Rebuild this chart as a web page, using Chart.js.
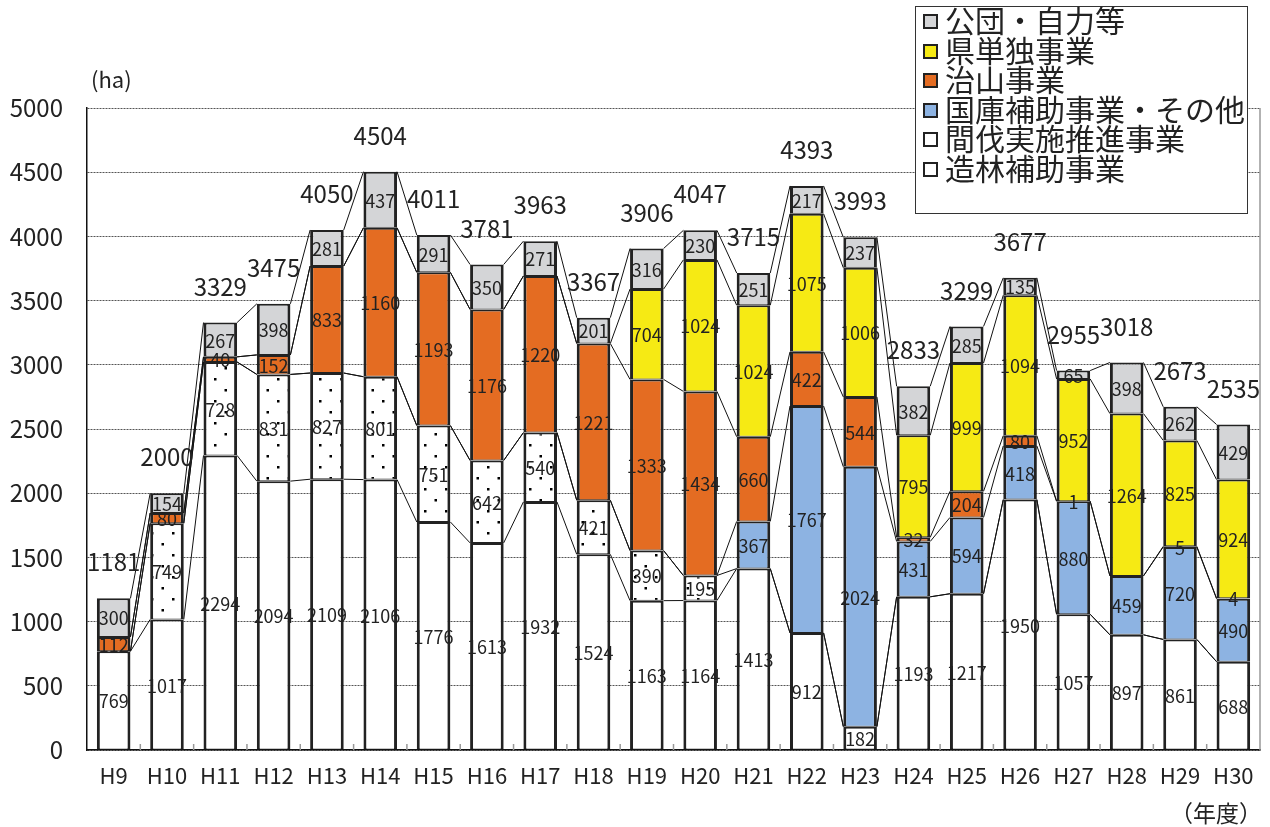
<!DOCTYPE html>
<html lang="ja">
<head>
<meta charset="utf-8">
<title>造林面積の推移</title>
<script src="https://cdn.jsdelivr.net/npm/chart.js@4.4.1/dist/chart.umd.min.js"></script>
<style>
  html, body { margin: 0; padding: 0; background: #fff; }
  #wrap { position: relative; width: 1270px; height: 827px; }
  #chart { position: absolute; left: 0; top: 0; }
  .txt { position: absolute; font-family: "Noto Sans CJK JP", sans-serif; color: #222; white-space: nowrap; }
  #legend { position: absolute; left: 915px; top: 6px; width: 331px; height: 206px; border: 1.5px solid #333; background: #fff; box-sizing: content-box; }
  #legend .row { display: flex; align-items: center; height: 29.5px; font-family: "Noto Sans CJK JP", sans-serif; font-size: 30px; line-height: 29.5px; color: #222; }
  #legend .row span.t { position: relative; top: -2px; }
  #legend .box { width: 11px; height: 11px; border: 2px solid #222; margin: 0 7px 0 7px; flex: none; }
</style>
</head>
<body>
<div id="wrap">
  <canvas id="chart" width="1270" height="827"></canvas>
  <div class="txt" style="left:91px;top:62px;font-size:22px;">(ha)</div>
  <div class="txt" style="left:1170px;top:795px;font-size:23px;">（年度）</div>
  <div id="legend"></div>
</div>
<script>
// --- DATA (ha) ---
const years = ['H9', 'H10', 'H11', 'H12', 'H13', 'H14', 'H15', 'H16', 'H17', 'H18', 'H19',
               'H20', 'H21', 'H22', 'H23', 'H24', 'H25', 'H26', 'H27', 'H28', 'H29', 'H30'];
const zorin    = [769, 1017, 2294, 2094, 2109, 2106, 1776, 1613, 1932, 1524, 1163, 1164, 1413, 912, 182, 1193, 1217, 1950, 1057, 897, 861, 688];
const kanbatsu = [0, 749, 728, 831, 827, 801, 751, 642, 540, 421, 390, 195, 0, 0, 0, 0, 0, 0, 0, 0, 0, 0];
const kokko    = [0, 0, 0, 0, 0, 0, 0, 0, 0, 0, 0, 0, 367, 1767, 2024, 431, 594, 418, 880, 459, 720, 490];
const chisan   = [112, 80, 40, 152, 833, 1160, 1193, 1176, 1220, 1221, 1333, 1434, 660, 422, 544, 32, 204, 80, 1, 0, 5, 4];
const kentan   = [0, 0, 0, 0, 0, 0, 0, 0, 0, 0, 704, 1024, 1024, 1075, 1006, 795, 999, 1094, 952, 1264, 825, 924];
const kodan    = [300, 154, 267, 398, 281, 437, 291, 350, 271, 201, 316, 230, 251, 217, 237, 382, 285, 135, 65, 398, 262, 429];
const totals   = [1181, 2000, 3329, 3475, 4050, 4504, 4011, 3781, 3963, 3367, 3906, 4047, 3715, 4393, 3993, 2833, 3299, 3677, 2955, 3018, 2673, 2535];
const yTicks   = [0, 500, 1000, 1500, 2000, 2500, 3000, 3500, 4000, 4500, 5000];

const FONT = '"Noto Sans CJK JP", sans-serif';
const INK = '#222';

// dotted fill for 間伐実施推進事業
const makeDots = () => {
    const c = document.createElement('canvas');
    c.width = 21; c.height = 22;
    const g = c.getContext('2d');
    g.fillStyle = '#fff';
    g.fillRect(0, 0, 21, 22);
    g.fillStyle = '#000';
    g.fillRect(4, 4, 2.5, 2.5);
    g.fillRect(14.5, 15, 2.5, 2.5);
    return g.createPattern(c, 'repeat');
};

const series = [
    { label: '造林補助事業', data: zorin, color: '#ffffff' },
    { label: '間伐実施推進事業', data: kanbatsu, color: makeDots(), legendColor: '#ffffff' },
    { label: '国庫補助事業・その他', data: kokko, color: '#8db3e2' },
    { label: '治山事業', data: chisan, color: '#e46c22' },
    { label: '県単独事業', data: kentan, color: '#f6ea14' },
    { label: '公団・自力等', data: kodan, color: '#d4d5d7' }
];

// legend (top series first)
const legendEl = document.getElementById('legend');
series.slice().reverse().forEach(s => {
    const row = document.createElement('div');
    row.className = 'row';
    row.innerHTML = `<span class="box" style="background:${s.legendColor || s.color}"></span><span class="t">${s.label}</span>`;
    legendEl.appendChild(row);
});

// series lines, segment labels, totals, frame extras
const extrasPlugin = {
    id: 'extras',
    afterDatasetsDraw(chart) {
        const ctx = chart.ctx;
        const y = chart.scales.y;
        const area = chart.chartArea;
        const n = years.length;

        // cumulative tops
        const cum = series.map(() => new Array(n).fill(0));
        for (let i = 0; i < n; i++) {
            let acc = 0;
            series.forEach((s, d) => { acc += s.data[i]; cum[d][i] = acc; });
        }

        ctx.save();
        // series lines
        ctx.strokeStyle = '#111';
        ctx.lineWidth = 1;
        series.forEach((s, d) => {
            const meta = chart.getDatasetMeta(d);
            for (let i = 0; i < n - 1; i++) {
                const a = meta.data[i], b = meta.data[i + 1];
                ctx.beginPath();
                ctx.moveTo(a.x + a.width / 2, y.getPixelForValue(cum[d][i]));
                ctx.lineTo(b.x - b.width / 2, y.getPixelForValue(cum[d][i + 1]));
                ctx.stroke();
            }
        });

        // segment labels
        ctx.fillStyle = INK;
        ctx.font = `18px ${FONT}`;
        ctx.textAlign = 'center';
        ctx.textBaseline = 'middle';
        series.forEach((s, d) => {
            const meta = chart.getDatasetMeta(d);
            s.data.forEach((v, i) => {
                if (!v) return;
                const mid = (cum[d][i] - v / 2);
                ctx.fillText(String(v), meta.data[i].x, y.getPixelForValue(mid) + 1);
            });
        });

        // totals
        ctx.font = `24px ${FONT}`;
        const top = chart.getDatasetMeta(0);
        totals.forEach((t, i) => {
            ctx.fillText(String(t), top.data[i].x, y.getPixelForValue(t) - 36);
        });

        // right frame line
        ctx.strokeStyle = '#999';
        ctx.lineWidth = 1.5;
        ctx.beginPath();
        ctx.moveTo(area.right, area.top);
        ctx.lineTo(area.right, area.bottom);
        ctx.stroke();

        // inward category ticks
        ctx.lineWidth = 1.5;
        const step = (area.right - area.left) / n;
        for (let k = 1; k < n; k++) {
            const x = area.left + k * step;
            ctx.beginPath();
            ctx.moveTo(x, area.bottom);
            ctx.lineTo(x, area.bottom - 6);
            ctx.stroke();
        }
        ctx.restore();
    }
};

new Chart(document.getElementById('chart'), {
    type: 'bar',
    data: {
        labels: years,
        datasets: series.map(s => ({
            label: s.label,
            data: s.data,
            backgroundColor: s.color,
            borderColor: INK,
            borderWidth: { top: 2, bottom: 1, left: 3, right: 3 },
            borderSkipped: false,
            categoryPercentage: 1,
            barPercentage: 0.63
        }))
    },
    options: {
        responsive: false,
        animation: false,
        devicePixelRatio: 1,
        layout: { padding: { top: 108, right: 10, left: 0, bottom: 0 } },
        plugins: {
            legend: { display: false },
            tooltip: { enabled: false }
        },
        scales: {
            x: {
                stacked: true,
                grid: { display: false, drawTicks: false },
                border: { display: true, color: '#111', width: 1.5 },
                ticks: { color: INK, font: { family: FONT, size: 22 }, padding: 12, maxRotation: 0, autoSkip: false },
                afterFit: (scale) => { scale.height = 77; }
            },
            y: {
                stacked: true,
                min: 0,
                max: 5000,
                afterBuildTicks: (scale) => { scale.ticks = yTicks.map(v => ({ value: v })); },
                grid: { color: '#555', lineWidth: 1, drawTicks: false },
                border: { display: true, color: '#111', width: 1.5, dash: [2, 1] },
                ticks: { color: INK, font: { family: FONT, size: 24 }, padding: 24, callback: (v) => String(v) },
                afterFit: (scale) => { scale.width = 87; }
            }
        }
    },
    plugins: [extrasPlugin]
});
</script>
</body>
</html>
